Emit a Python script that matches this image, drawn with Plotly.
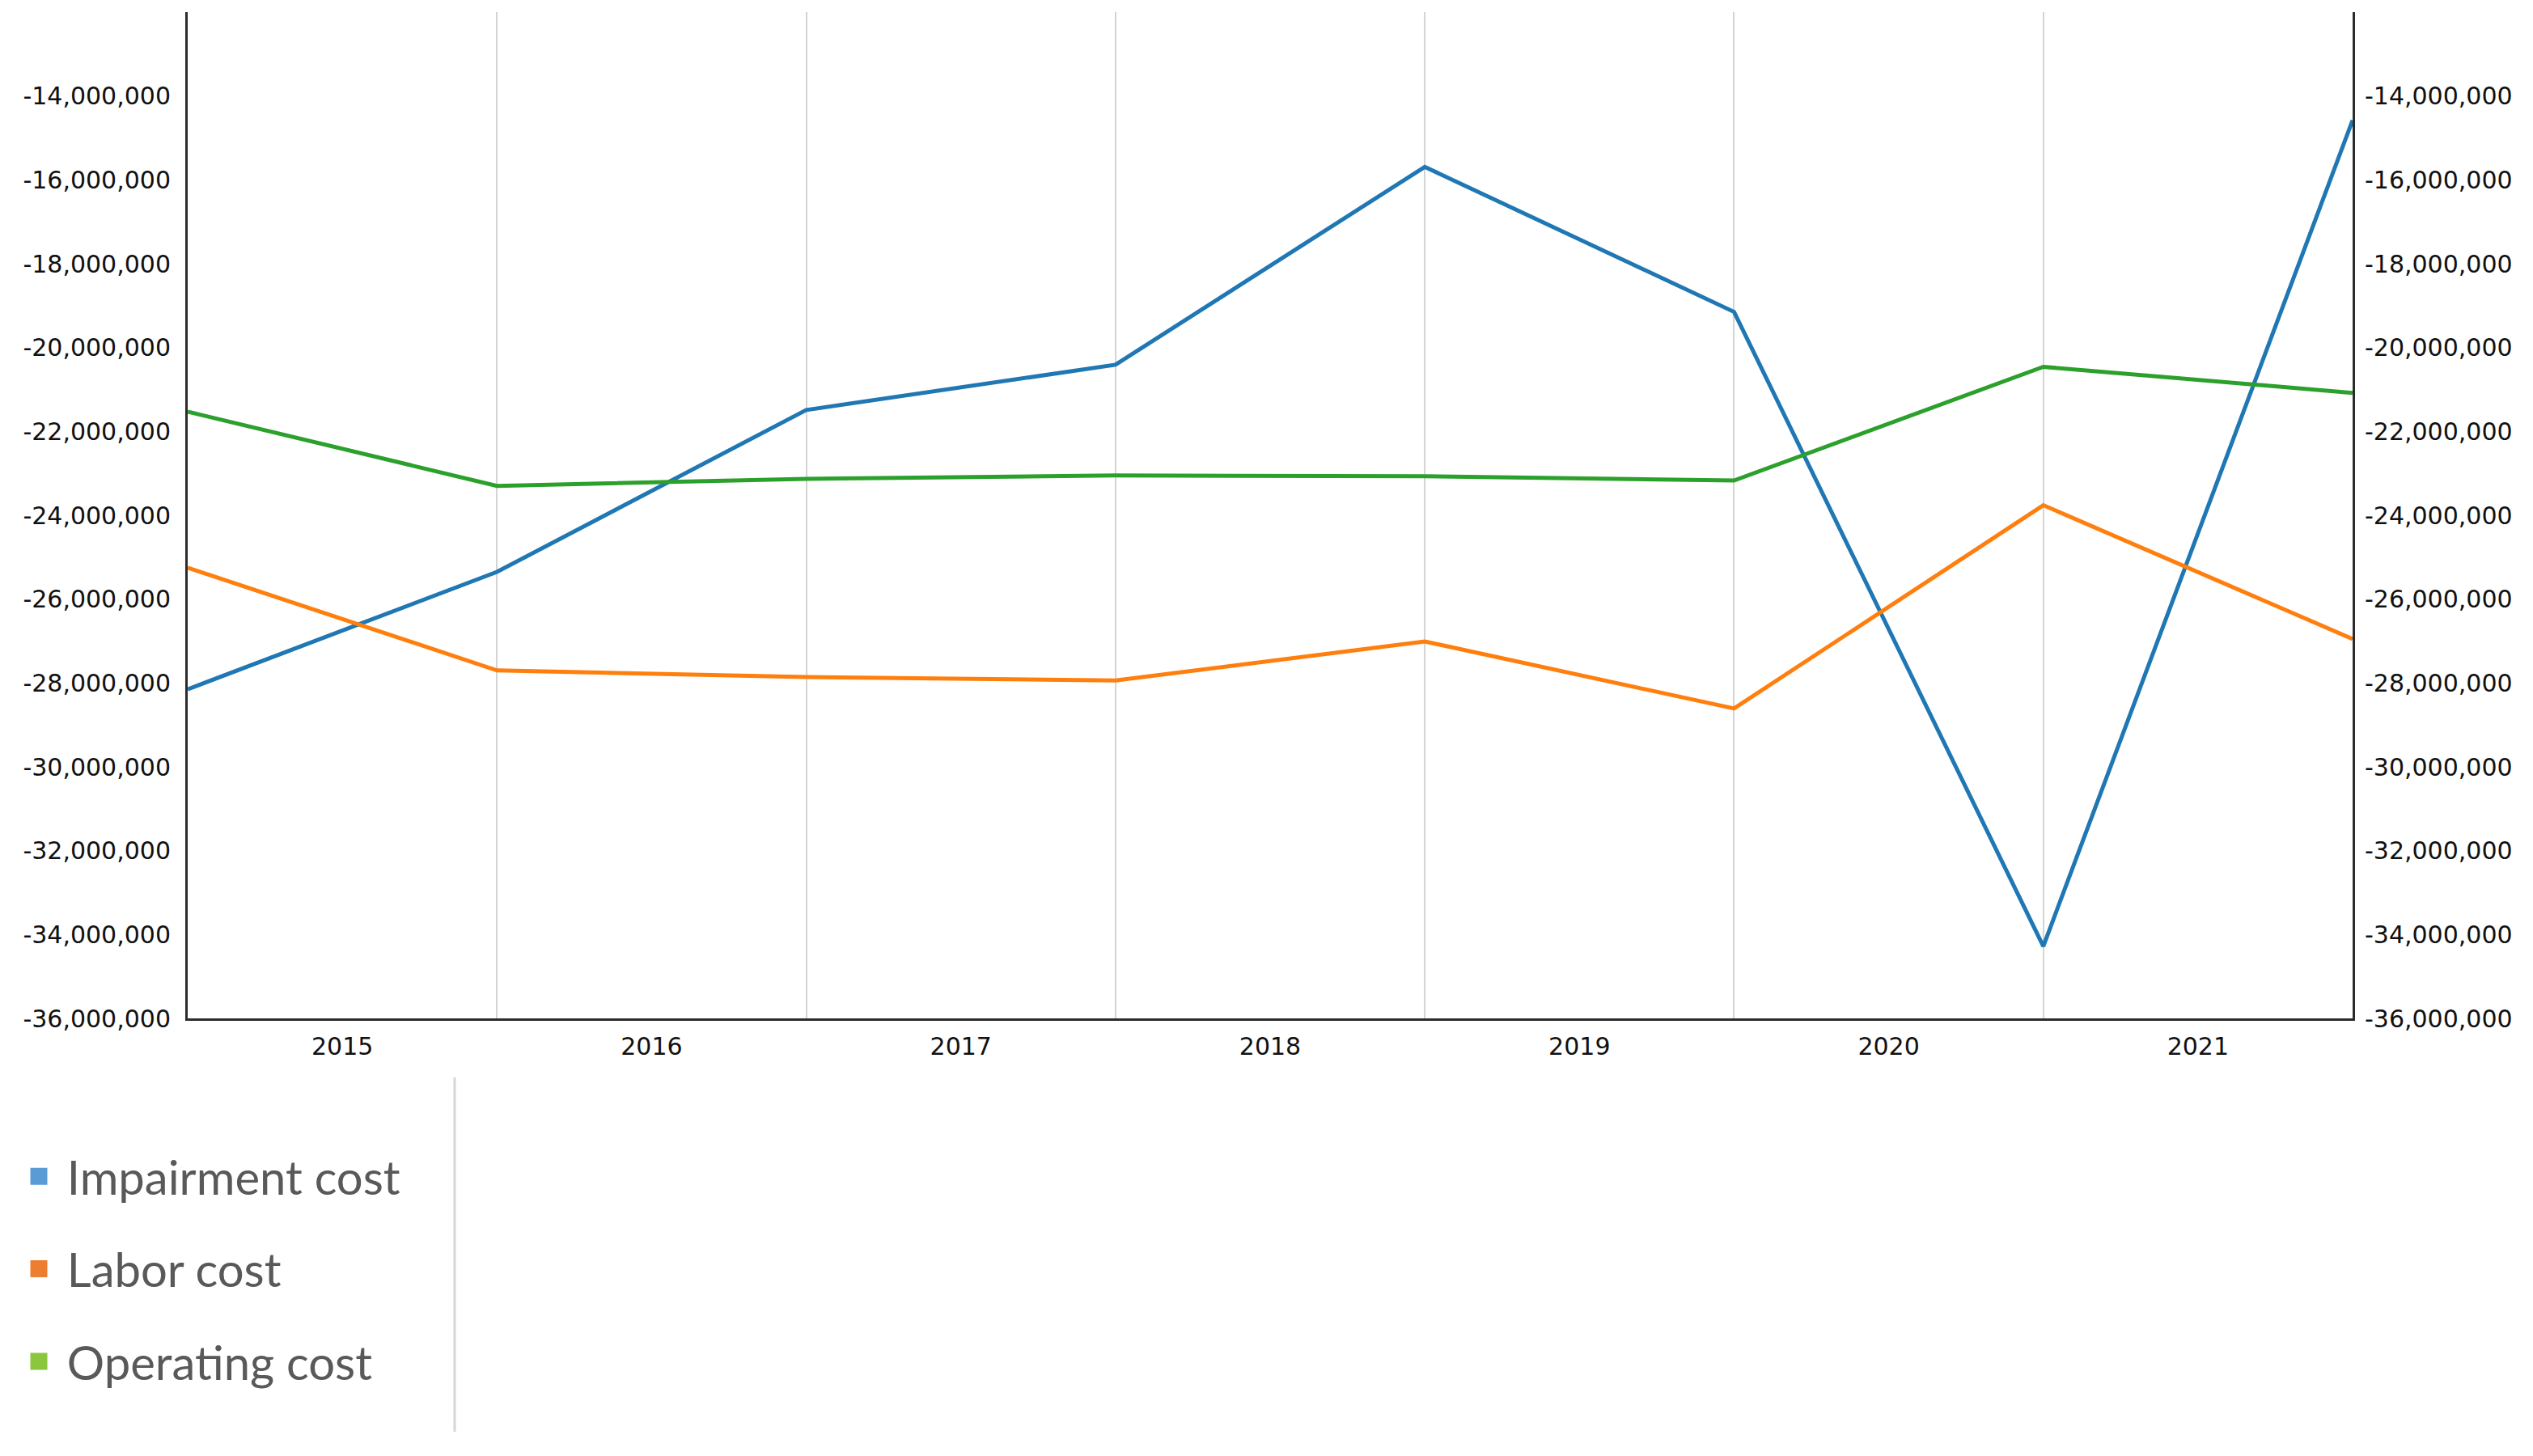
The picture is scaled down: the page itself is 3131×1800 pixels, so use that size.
import plotly.graph_objects as go

# ---- data (values in currency units) ----
year_labels = ["2015", "2016", "2017", "2018", "2019", "2020", "2021"]
impairment_cost = [-28150000, -25350000, -21490000, -20410000, -15690000, -19150000, -34280000, -14580000]
labor_cost = [-25250000, -27700000, -27860000, -27940000, -27010000, -28610000, -23760000, -26950000]
operating_cost = [-21530000, -23300000, -23130000, -23050000, -23070000, -23170000, -20460000, -21080000]
y_ticks = [-36000000, -34000000, -32000000, -30000000, -28000000, -26000000, -24000000,
           -22000000, -20000000, -18000000, -16000000, -14000000]
y_range = [-36000000, -12000000]

series_names = ["Impairment cost", "Labor cost", "Operating cost"]
line_colors = ["#1f77b4", "#ff7f0e", "#2ca02c"]
legend_colors = ["#5b9bd5", "#ed7d31", "#8cc63f"]

OFF = 8  # page body offset
W, H = 3131, 1800
ML, MT = 232 - OFF, 15 - OFF
pw, ph = 2908 - 232, 1259 - 15
MR = W - ML - pw
MB = H - MT - ph

def px_x(x):
    return (x - OFF - ML) / pw

def px_y(y):
    return (MT + ph - (y - OFF)) / ph

xs = list(range(len(impairment_cost)))
fig = go.Figure()
for name, vals, col in zip(series_names, [impairment_cost, labor_cost, operating_cost], line_colors):
    fig.add_trace(go.Scatter(x=xs, y=vals, mode="lines", name=name,
                             line=dict(color=col, width=5), showlegend=False))
for i, (name, col) in enumerate(zip(series_names, legend_colors)):
    fig.add_trace(go.Scatter(x=[None], y=[None], mode="markers", name="\u00a0" + name,
                             legendgroup=f"g{i}",
                             marker=dict(symbol="square", size=16, color=col,
                                         line=dict(color=col, width=5))))

tick_font = dict(family="DejaVu Sans", size=30, color="#111111")
ytext = [f"{v:,}" for v in y_ticks]
axis_line = "#2b2b2b"

fig.update_layout(
    width=W, height=H,
    margin=dict(l=ML, r=MR, t=MT, b=MB, pad=0),
    paper_bgcolor="white", plot_bgcolor="white",
    showlegend=True,
    legend=dict(x=px_x(28), y=px_y(1410), xanchor="left", yanchor="top",
                orientation="v", font=dict(family="Lato", size=58, color="#595959"),
                tracegroupgap=36, bgcolor="rgba(0,0,0,0)"),
    xaxis=dict(range=[0, len(xs) - 1], tickvals=[i + 0.5 for i in range(len(year_labels))],
               ticktext=year_labels, showgrid=False, zeroline=False,
               showline=True, linecolor=axis_line, linewidth=3,
               ticks="outside", ticklen=0, ticklabelstandoff=6, tickfont=tick_font,
               minor=dict(tick0=0, dtick=1, showgrid=True, gridcolor="#d4d4d4", gridwidth=2)),
    yaxis=dict(range=y_range, tickvals=y_ticks, ticktext=ytext, showgrid=False, zeroline=False,
               showline=True, linecolor=axis_line, linewidth=3,
               ticks="outside", ticklen=0, ticklabelstandoff=12, tickfont=tick_font),
    yaxis2=dict(range=y_range, tickvals=y_ticks, ticktext=ytext, overlaying="y", side="right",
                showgrid=False, zeroline=False, showline=True, linecolor=axis_line, linewidth=3,
                ticks="outside", ticklen=0, ticklabelstandoff=6, tickfont=tick_font),
    shapes=[dict(type="line", xref="paper", yref="paper",
                 x0=px_x(562), x1=px_x(562), y0=px_y(1332), y1=px_y(1770),
                 line=dict(color="#d6d6d6", width=3))],
)
# invisible trace so the right-hand axis is drawn
fig.add_trace(go.Scatter(x=[None], y=[None], yaxis="y2", showlegend=False, hoverinfo="skip"))

fig.write_html("out.html")
